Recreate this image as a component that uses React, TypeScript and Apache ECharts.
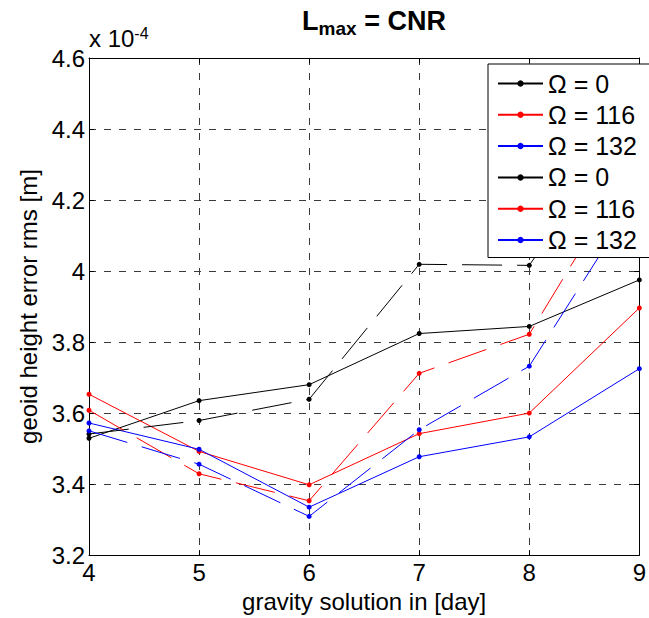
import React, { useEffect, useRef } from 'react';
import * as echarts from 'echarts';

const days = [4, 5, 6, 7, 8, 9];
const omega0A = [3.529, 3.635, 3.68, 3.824, 3.844, 3.975];
const omega116A = [3.653, 3.492, 3.398, 3.542, 3.6, 3.896];
const omega132A = [3.572, 3.498, 3.335, 3.477, 3.533, 3.725];
const omega0B = [3.541, 3.579, 3.639, 4.019, 4.016, 4.461];
const omega116B = [3.608, 3.429, 3.353, 3.712, 3.822, 4.332];
const omega132B = [3.55, 3.456, 3.309, 3.553, 3.732, 4.22];
const legendNames = ['Ω = 0', 'Ω = 116', 'Ω = 132', 'Ω = 0 ', 'Ω = 116 ', 'Ω = 132 '];
const colors = ['#000000', '#ff0000', '#0000ff', '#000000', '#ff0000', '#0000ff'];
const dashed = [false, false, false, true, true, true];
const allValues = [omega0A, omega116A, omega132A, omega0B, omega116B, omega132B];

const FONT = 'Liberation Sans, Arial, Helvetica, sans-serif';

export default function App() {
  const ref = useRef<HTMLDivElement>(null);
  useEffect(() => {
    if (!ref.current) return;
    const chart = echarts.init(ref.current, undefined, { renderer: 'svg' });
    const series = allValues.map((vals, i) => ({
      name: legendNames[i],
      type: 'line',
      data: days.map((d, j) => [d, vals[j]]),
      symbol: 'circle',
      symbolSize: 5,
      showSymbol: true,
      itemStyle: { color: colors[i] },
      lineStyle: { color: colors[i], width: 1, type: dashed[i] ? [40, 15] : 'solid' },
      emphasis: { disabled: true },
      z: 3,
    }));
    const gridDash = { color: '#3a3a3a', width: 1, type: [7, 8] };
    chart.setOption({
      animation: false,
      backgroundColor: '#ffffff',
      grid: { left: 89, right: 5, top: 58, bottom: 58 },
      xAxis: [
        {
          type: 'value', min: 4, max: 9, interval: 1,
          axisLine: { show: true, lineStyle: { color: '#000', width: 1 } },
          axisTick: { show: true, inside: true, length: 5, lineStyle: { color: '#000' } },
          axisLabel: { color: '#000', fontSize: 24, fontFamily: FONT, margin: 5 },
          splitLine: { show: true, lineStyle: gridDash },
          name: 'gravity solution in [day]',
          nameLocation: 'middle',
          nameGap: 29,
          nameTextStyle: { color: '#000', fontSize: 24, fontFamily: FONT, verticalAlign: 'top' },
        },
        {
          type: 'value', min: 4, max: 9, interval: 1, position: 'top',
          axisLine: { show: true, lineStyle: { color: '#000', width: 1 } },
          axisTick: { show: true, inside: true, length: 5, lineStyle: { color: '#000' } },
          axisLabel: { show: false },
          splitLine: { show: false },
        },
      ],
      yAxis: [
        {
          type: 'value', min: 3.2, max: 4.6, interval: 0.2,
          axisLine: { show: true, lineStyle: { color: '#000', width: 1 } },
          axisTick: { show: true, inside: true, length: 5, lineStyle: { color: '#000' } },
          axisLabel: { color: '#000', fontSize: 24, fontFamily: FONT, margin: 4 },
          splitLine: { show: true, lineStyle: gridDash },
          name: 'geoid height error rms [m]',
          nameLocation: 'middle',
          nameRotate: 90,
          nameGap: 47,
          nameTextStyle: { color: '#000', fontSize: 24, fontFamily: FONT },
        },
        {
          type: 'value', min: 3.2, max: 4.6, interval: 0.2, position: 'right',
          axisLine: { show: true, lineStyle: { color: '#000', width: 1 } },
          axisTick: { show: true, inside: true, length: 5, lineStyle: { color: '#000' } },
          axisLabel: { show: false },
          splitLine: { show: false },
        },
      ],
      legend: {
        left: 488,
        top: 64,
        orient: 'vertical',
        data: legendNames,
        backgroundColor: '#ffffff',
        borderColor: '#000',
        borderWidth: 1,
        borderRadius: 0,
        padding: [7, 10, 5, 9],
        itemWidth: 45,
        itemHeight: 8,
        itemGap: 6.3,
        lineStyle: { type: 'solid' },
        selectedMode: false,
        textStyle: { color: '#000', fontSize: 25, fontFamily: FONT, lineHeight: 25 },
        z: 10,
      },
      graphic: [
        {
          type: 'text',
          x: 374,
          y: 7,
          style: {
            text: '{l|L}{s|max}{l| = CNR}',
            textAlign: 'center',
            fill: '#000',
            rich: {
              l: { fontSize: 27, fontWeight: 'bold', fontFamily: FONT, lineHeight: 28, verticalAlign: 'top', fill: '#000' },
              s: { fontSize: 19, fontWeight: 'bold', fontFamily: FONT, lineHeight: 19, padding: [14, 0, 0, 0], fill: '#000' },
            },
          },
        },
        {
          type: 'text',
          x: 89,
          y: 26,
          style: {
            text: '{n|x 10}{e|-4}',
            fill: '#000',
            rich: {
              n: { fontSize: 24, fontFamily: FONT, lineHeight: 24, verticalAlign: 'bottom', fill: '#000' },
              e: { fontSize: 16, fontFamily: FONT, lineHeight: 16, padding: [0, 0, 10, 0], fill: '#000' },
            },
          },
        },
      ],
      series,
    });
    return () => chart.dispose();
  }, []);
  return <div ref={ref} style={{ width: 649, height: 618, position: 'absolute', left: 0, top: 0 }} />;
}
